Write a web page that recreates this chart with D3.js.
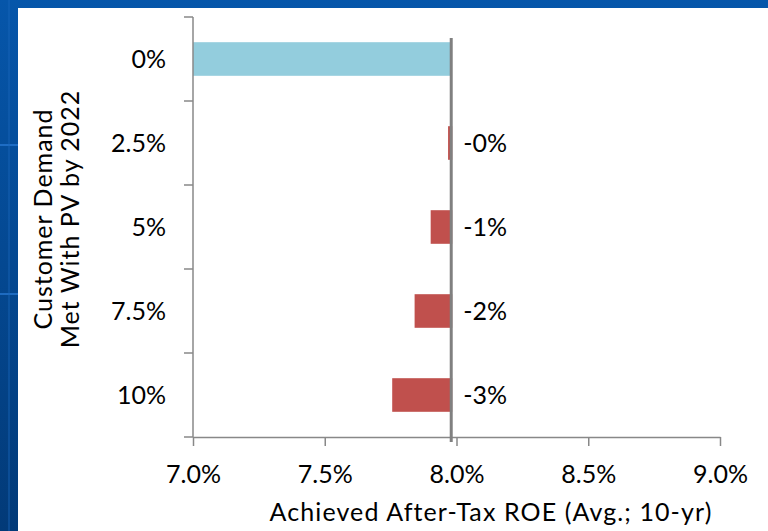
<!DOCTYPE html>
<html>
<head>
<meta charset="utf-8">
<script src="https://cdn.jsdelivr.net/npm/d3@7"></script>
<style>
  html, body { margin: 0; padding: 0; background: #0a4c98; }
  svg { display: block; }
  text { font-family: Lato, "Open Sans", sans-serif; fill: #000; }
</style>
</head>
<body>
<svg id="chart" width="768" height="531"></svg>
<script>
// categories (share of customer demand met with PV by 2022)
const categories = ["0%", "2.5%", "5%", "7.5%", "10%"];
// base achieved ROE, % (the 0% case)
const baseRoe = 7.98;
// change in ROE vs. base, percentage points (0% case has none)
const roeChange = [0, -0.012, -0.078, -0.139, -0.224];
// relative change labels
const changeLabels = ["", "-0%", "-1%", "-2%", "-3%"];
const xTicks = [7.0, 7.5, 8.0, 8.5, 9.0];

const svg = d3.select("#chart");
const W = 768, H = 531;
const fontSize = "25px";

// blue slide background
const defs = svg.append("defs");
const grad = defs.append("linearGradient").attr("id", "bg").attr("x1", 0).attr("y1", 0).attr("x2", 0).attr("y2", 1);
grad.append("stop").attr("offset", "0%").attr("stop-color", "#0656aa");
grad.append("stop").attr("offset", "100%").attr("stop-color", "#023a78");
svg.append("rect").attr("width", W).attr("height", H).attr("fill", "url(#bg)");
// faint streaks in the background
svg.append("rect").attr("x", 0).attr("y", 144).attr("width", 18).attr("height", 2).attr("fill", "#2a7ad6").attr("opacity", 0.7);
svg.append("rect").attr("x", 0).attr("y", 293).attr("width", 18).attr("height", 2).attr("fill", "#2a7ad6").attr("opacity", 0.7);
svg.append("rect").attr("x", 8).attr("y", 0).attr("width", 2).attr("height", H).attr("fill", "#1a66bb").attr("opacity", 0.4);

// white panel
svg.append("rect").attr("x", 18).attr("y", 8).attr("width", W - 18).attr("height", H - 8).attr("fill", "#fff");

const margin = { left: 193, right: 48, top: 17, bottom: 94 };
const x = d3.scaleLinear().domain([7, 9]).range([margin.left, W - margin.right]);
const y = d3.scaleBand().domain(categories).range([margin.top, H - margin.bottom])
  .paddingInner(0.6).paddingOuter(0.3);

const axisColor = "#888";

// bars
const rows = categories.map((c, i) => ({
  cat: c,
  start: i === 0 ? x.domain()[0] : baseRoe + roeChange[i],
  end: baseRoe,
  color: i === 0 ? "#93cddd" : "#c0504d",
  label: changeLabels[i]
}));

svg.append("g").selectAll("rect").data(rows).join("rect")
  .attr("x", d => x(d.start))
  .attr("y", d => y(d.cat))
  .attr("width", d => Math.max(0, x(d.end) - x(d.start)) + (d.color === "#93cddd" ? 0 : 1))
  .attr("height", y.bandwidth())
  .attr("fill", d => d.color);

// x axis
const xAxis = svg.append("g")
  .attr("transform", `translate(0,${H - margin.bottom})`)
  .call(d3.axisBottom(x).tickValues(xTicks).tickSize(9).tickSizeOuter(0).tickFormat(d => d.toFixed(1) + "%"));
xAxis.select(".domain").attr("stroke", axisColor).attr("stroke-width", 1.5);
xAxis.selectAll(".tick line").attr("stroke", axisColor).attr("stroke-width", 1.5);
xAxis.selectAll(".tick text").attr("dy", 0).attr("y", 46).attr("fill", "#000").style("font-size", fontSize);

// y axis (category labels + boundary ticks)
const yAxis = svg.append("g").attr("transform", `translate(${margin.left},0)`);
yAxis.append("line")
  .attr("x1", 0).attr("x2", 0)
  .attr("y1", y.range()[0]).attr("y2", y.range()[1])
  .attr("stroke", axisColor).attr("stroke-width", 1.5);
const bounds = d3.range(categories.length + 1).map(i => y.range()[0] + i * y.step());
yAxis.selectAll(".btick").data(bounds).join("line")
  .attr("class", "btick")
  .attr("x1", -9).attr("x2", 0)
  .attr("y1", d => d).attr("y2", d => d)
  .attr("stroke", axisColor).attr("stroke-width", 1.5);
yAxis.selectAll(".ylab").data(categories).join("text")
  .attr("class", "ylab")
  .attr("x", -27)
  .attr("y", d => y(d) + y.bandwidth() / 2)
  .attr("dy", "0.35em")
  .attr("text-anchor", "end")
  .style("font-size", fontSize)
  .text(d => d);

// base ROE reference line
svg.append("line")
  .attr("x1", x(baseRoe)).attr("x2", x(baseRoe))
  .attr("y1", 38).attr("y2", H - margin.bottom + 5)
  .attr("stroke", "#808080").attr("stroke-width", 3);

// change labels
svg.append("g").selectAll("text").data(rows.filter(d => d.label)).join("text")
  .attr("x", x(baseRoe) + 12)
  .attr("y", d => y(d.cat) + y.bandwidth() / 2)
  .attr("dy", "0.35em")
  .style("font-size", fontSize)
  .text(d => d.label);

// axis titles
svg.append("text")
  .attr("x", 491).attr("y", 521)
  .attr("text-anchor", "middle")
  .style("font-size", fontSize)
  .style("letter-spacing", "1.1px")
  .text("Achieved After-Tax ROE (Avg.; 10-yr)");

const yTitle = svg.append("text")
  .attr("transform", "translate(52,219) rotate(-90)")
  .attr("text-anchor", "middle")
  .style("font-size", fontSize)
  .style("letter-spacing", "1px");
yTitle.append("tspan").attr("x", 0).attr("y", 0).text("Customer Demand");
yTitle.append("tspan").attr("x", 0).attr("y", 27).text("Met With PV by 2022");
</script>
</body>
</html>
